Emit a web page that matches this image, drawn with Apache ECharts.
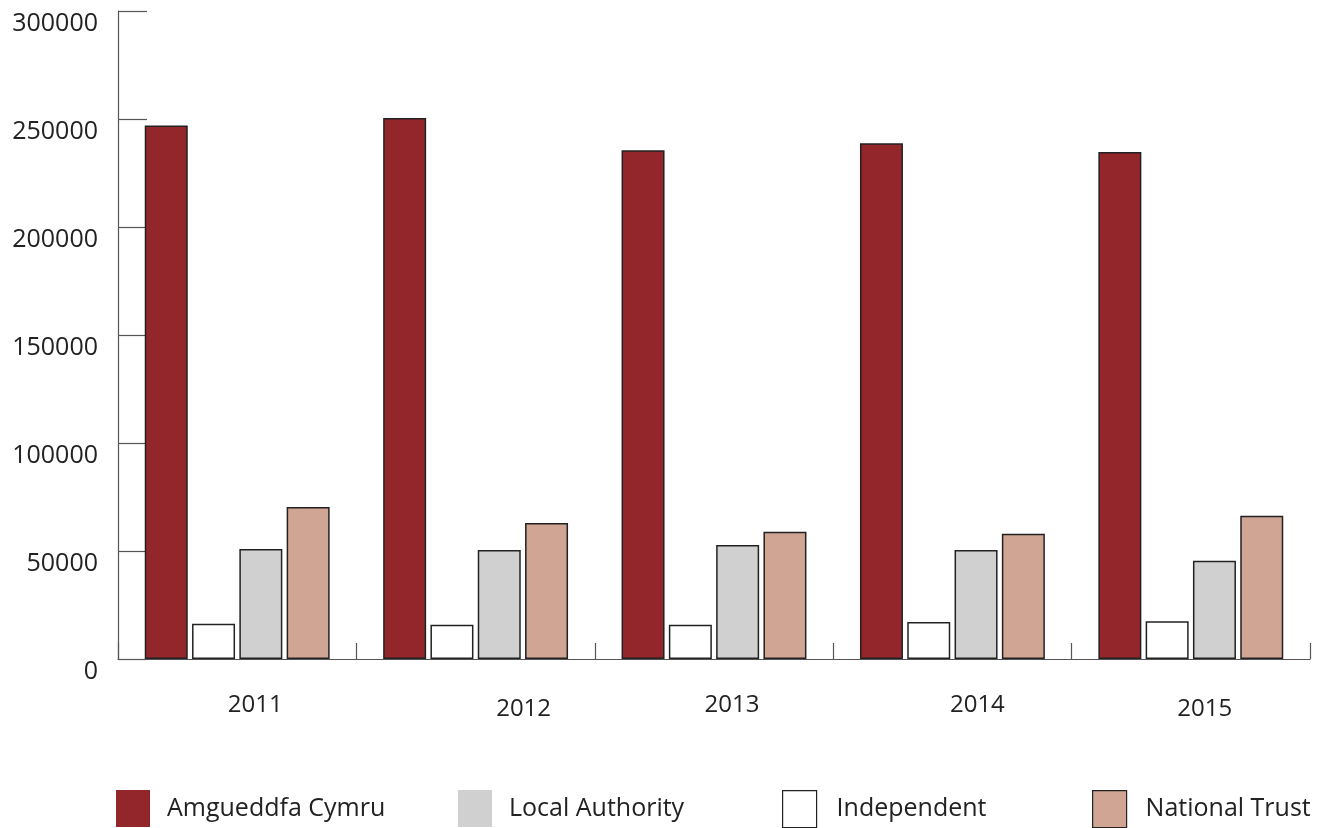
<!DOCTYPE html>
<html><head><meta charset="utf-8">
<script src="https://cdn.jsdelivr.net/npm/echarts@6/dist/echarts.min.js"></script>
<style>html,body{margin:0;padding:0;background:#fff}#c{width:1317px;height:828px}</style>
</head><body><div id="c"></div>
<script>
const years = ['2011','2012','2013','2014','2015'];
const amgueddfaCymru = [247000, 250500, 235500, 238800, 234700];
const independent = [16300, 15800, 15800, 17100, 17500];
const localAuthority = [50900, 50500, 52800, 50500, 45500];
const nationalTrust = [70400, 63000, 58900, 58000, 66300];
const yTicks = [0, 50000, 100000, 150000, 200000, 250000, 300000];

const FONT = '"Open Sans", "Noto Sans", sans-serif';
const colors = {
  'Amgueddfa Cymru': '#93262A',
  'Independent': '#FFFFFF',
  'Local Authority': '#D0D0D0',
  'National Trust': '#D0A594'
};
const labelShift = [[0,36],[4,96],[0,36],[0,50],[4,28]];
const rich = {};
labelShift.forEach((s,i)=>{ rich['l'+i] = {fontSize:24, fontFamily:FONT, color:'#222', padding:[s[0],0,0,s[1]]}; });

function mkSeries(name, data){
  return {name, type:'bar', data, barWidth:43, barGap:'10%',
    itemStyle:{color:colors[name], borderColor:'#222', borderWidth:1.5}};
}
function mkLegend(name, left, pad){
  return {show:true, data:[{name, icon:'rect'}], left, top:790, padding:0, itemWidth:34, itemHeight:37, itemGap:0,
    textStyle:{fontSize:25, fontFamily:FONT, color:'#222', padding:[0,0,0,pad]},
    itemStyle: name==='Independent'||name==='National Trust' ? {borderColor:'#222', borderWidth:1.2} : {borderWidth:0},
    selectedMode:false};
}
const chart = echarts.init(document.getElementById('c'));
chart.setOption({
  animation:false,
  grid:{left:118, right:7, top:11, bottom:169},
  legend:[mkLegend('Amgueddfa Cymru',116,12), mkLegend('Local Authority',458,12), mkLegend('Independent',782,15), mkLegend('National Trust',1092,14)],
  xAxis:{type:'category', data:years,
    axisLine:{lineStyle:{color:'#555', width:1.2}},
    axisTick:{show:true, inside:true, length:16, alignWithLabel:false, interval:0, lineStyle:{color:'#555', width:1.2}},
    axisLabel:{margin:34, interval:0, formatter:(v,i)=>'{l'+i+'|'+v+'}', rich}},
  yAxis:{type:'value', min:0, max:300000, interval:50000,
    axisLine:{show:true, lineStyle:{color:'#555', width:1.2}},
    axisTick:{show:true, inside:true, length:29, lineStyle:{color:'#555', width:1.2}},
    splitLine:{show:false},
    axisLabel:{margin:20, fontSize:25, fontFamily:FONT, color:'#222', verticalAlign:'top',
      formatter:v=>yTicks.includes(v)?String(v):''}},
  series:[mkSeries('Amgueddfa Cymru', amgueddfaCymru), mkSeries('Independent', independent),
    mkSeries('Local Authority', localAuthority), mkSeries('National Trust', nationalTrust)]
});
</script></body></html>
